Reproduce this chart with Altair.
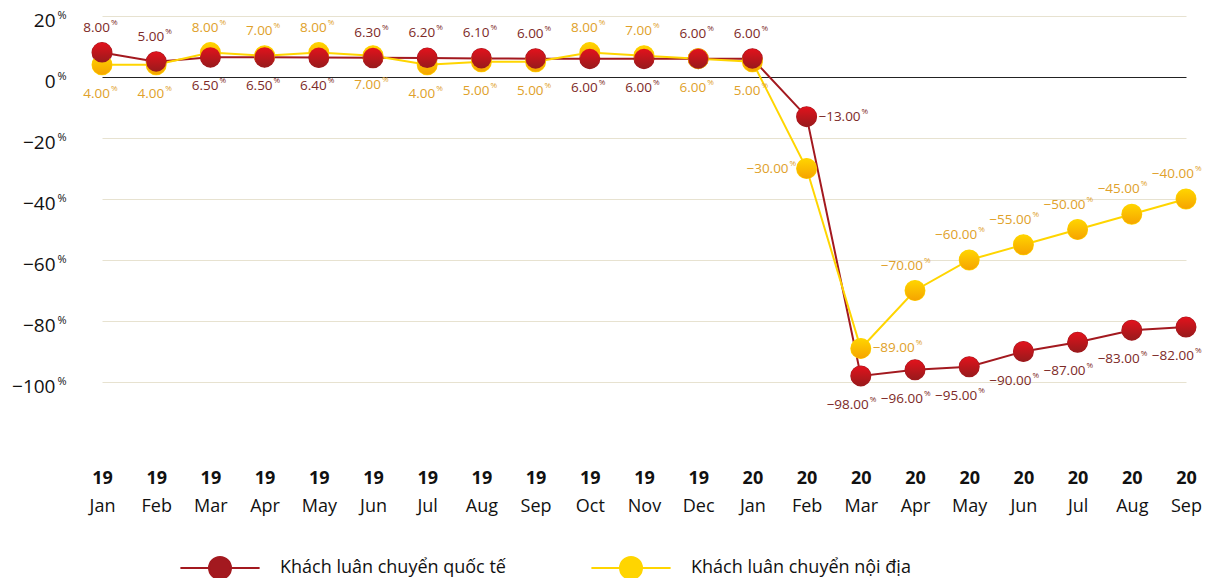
import altair as alt
import pandas as pd

years = ["19"] * 12 + ["20"] * 9
months = ["Jan", "Feb", "Mar", "Apr", "May", "Jun", "Jul", "Aug", "Sep", "Oct", "Nov", "Dec",
          "Jan", "Feb", "Mar", "Apr", "May", "Jun", "Jul", "Aug", "Sep"]
intl = [8.0, 5.0, 6.5, 6.5, 6.4, 6.3, 6.2, 6.1, 6.0, 6.0, 6.0, 6.0, 6.0,
        -13.0, -98.0, -96.0, -95.0, -90.0, -87.0, -83.0, -82.0]
dom = [4.0, 4.0, 8.0, 7.0, 8.0, 7.0, 4.0, 5.0, 5.0, 8.0, 7.0, 6.0, 5.0,
       -30.0, -89.0, -70.0, -60.0, -55.0, -50.0, -45.0, -40.0]
series_names = ["Khách luân chuyển quốc tế", "Khách luân chuyển nội địa"]
y_ticks = [20, 0, -20, -40, -60, -80, -100]

keys = [f"{y} {m}" for y, m in zip(years, months)]

RED_LINE = "#a3191f"
YEL_LINE = "#ffd500"
RED_TXT = "#7d2a27"
YEL_TXT = "#e0a12a"
FONT = "Open Sans"

rows = []
for i, k in enumerate(keys):
    for s, vals, other in ((series_names[0], intl, dom), (series_names[1], dom, intl)):
        v = vals[i]
        o = other[i]
        is_red = s == series_names[0]
        side = "above" if (v > o or (v == o and is_red)) else "below"
        if i == 5:
            side = "above" if is_red else "below"
        if i == 13:
            side = "right" if is_red else "left"
        if i == 14:
            side = "below" if is_red else "right"
        rows.append({"key": k, "series": s, "value": v,
                     "label": f"{v:.2f}".replace("-", "\u2212"), "side": side})
df = pd.DataFrame(rows)

color_scale = alt.Scale(domain=series_names, range=[RED_LINE, YEL_LINE])
x_scale = alt.Scale(type="point", range=[27, 1111], padding=0)
y_scale = alt.Scale(domain=[-120, 20], nice=False, zero=False)
x_enc = alt.X("key:N", sort=keys, scale=x_scale, title=None, axis=None)
y_enc = alt.Y("value:Q", scale=y_scale, title=None, axis=None)

base = alt.Chart(df)

lines = base.mark_line(strokeWidth=2).encode(
    x=alt.X("key:N", sort=keys, scale=x_scale, title=None,
            axis=alt.Axis(orient="bottom", labelExpr="split(datum.label, ' ')[0]",
                          labelFontWeight="bold", labelFontSize=18, labelColor="#111",
                          labelFont=FONT, labelPadding=26, domain=False, ticks=False,
                          grid=False, labelAngle=0)),
    y=alt.Y("value:Q", scale=y_scale, title=None,
            axis=alt.Axis(orient="left", values=y_ticks,
                          labelExpr="replace(datum.label, '-', '\u2212')",
                          labelFontSize=19, labelFont=FONT, labelColor="#111",
                          labelPadding=20, labelOffset=4, domain=False, ticks=False,
                          gridColor={"condition": {"test": "datum.value === 0", "value": "#222"},
                                     "value": "#e7e2d0"},
                          gridWidth=1)),
    color=alt.Color("series:N", scale=color_scale, legend=None),
    detail="series:N",
)

sym = "M-3.6,0L-1,0M1,0L3.6,0M-1,0A1,1 0 1,1 1,0A1,1 0 1,1 -1,0Z"
leg = dict(title=None, orient="none", legendX=133, legendY=540, direction="horizontal",
           symbolType=sym, symbolSize=484, symbolStrokeWidth=2,
           labelFontSize=18, labelFont=FONT, labelColor="#111", labelLimit=500,
           labelOffset=48, columnPadding=81)

legend_pts = base.mark_point(filled=True, size=360, strokeWidth=2, opacity=1).encode(
    x=alt.X("key:N", sort=keys, scale=x_scale, title=None,
            axis=alt.Axis(orient="bottom", labelExpr="split(datum.label, ' ')[1]",
                          labelFontSize=18, labelColor="#111", labelFont=FONT,
                          labelPadding=54, domain=False, ticks=False, grid=False, labelAngle=0)),
    y=alt.Y("value:Q", scale=y_scale, title=None,
            axis=alt.Axis(orient="left", values=y_ticks, labelExpr="'%'",
                          labelFontSize=11, labelFont=FONT, labelColor="#111",
                          labelAlign="left", labelPadding=18, labelOffset=-1,
                          domain=False, ticks=False, grid=False)),
    fill=alt.Fill("series:N", scale=color_scale, legend=alt.Legend(**leg)),
    stroke=alt.Stroke("series:N", scale=color_scale, legend=alt.Legend(**leg)),
)

def grad(top, bottom):
    return alt.LinearGradient(gradient="linear", x1=0, y1=0, x2=0, y2=1,
                              stops=[alt.GradientStop(offset=0, color=top),
                                     alt.GradientStop(offset=1, color=bottom)])

yel_pts = base.transform_filter(alt.datum.series == series_names[1]).mark_circle(
    size=400, opacity=1, color=grad("#ffd400", "#f6a400")).encode(x=x_enc, y=y_enc)
red_pts = base.transform_filter(alt.datum.series == series_names[0]).mark_circle(
    size=400, opacity=1, color=grad("#e2121c", "#981a1c")).encode(x=x_enc, y=y_enc)

text_color = alt.Color("series:N", scale=alt.Scale(domain=series_names, range=[RED_TXT, YEL_TXT]),
                       legend=None)

offsets = {
    "above": (0, -25),
    "below": (0, 29),
    "right": (24, 0),
    "left": (-24, 0),
}

label_layers = []
for side, (dx, dy) in offsets.items():
    sub = base.transform_filter(alt.datum.side == side)
    if side in ("above", "below"):
        num_dx, pct_dx = dx + 8, dx + 9
    elif side == "right":
        num_dx, pct_dx = dx + 30, dx + 31
    else:
        num_dx, pct_dx = dx + 6, dx + 7
    num = sub.mark_text(font=FONT, fontSize=13.5, align="right", baseline="middle",
                        dx=num_dx, dy=dy).encode(
        x=x_enc, y=y_enc, text="label:N", color=text_color)
    pct = sub.mark_text(font=FONT, fontSize=8, align="left", baseline="middle",
                        dx=pct_dx, dy=dy - 5).encode(
        x=x_enc, y=y_enc, text=alt.value("%"), color=text_color)
    label_layers += [num, pct]

chart = alt.layer(lines, legend_pts, yel_pts, red_pts, *label_layers).resolve_axis(
    x="independent", y="independent"
).resolve_scale(color="independent").properties(
    width=1128, height=427,
    autosize=alt.AutoSizeParams(type="none"),
    padding={"left": 67, "top": 8, "right": 0, "bottom": 135},
).configure(background="white").configure_view(stroke=None)

chart.save("out.html", embed_options={"renderer": "svg", "actions": False})
